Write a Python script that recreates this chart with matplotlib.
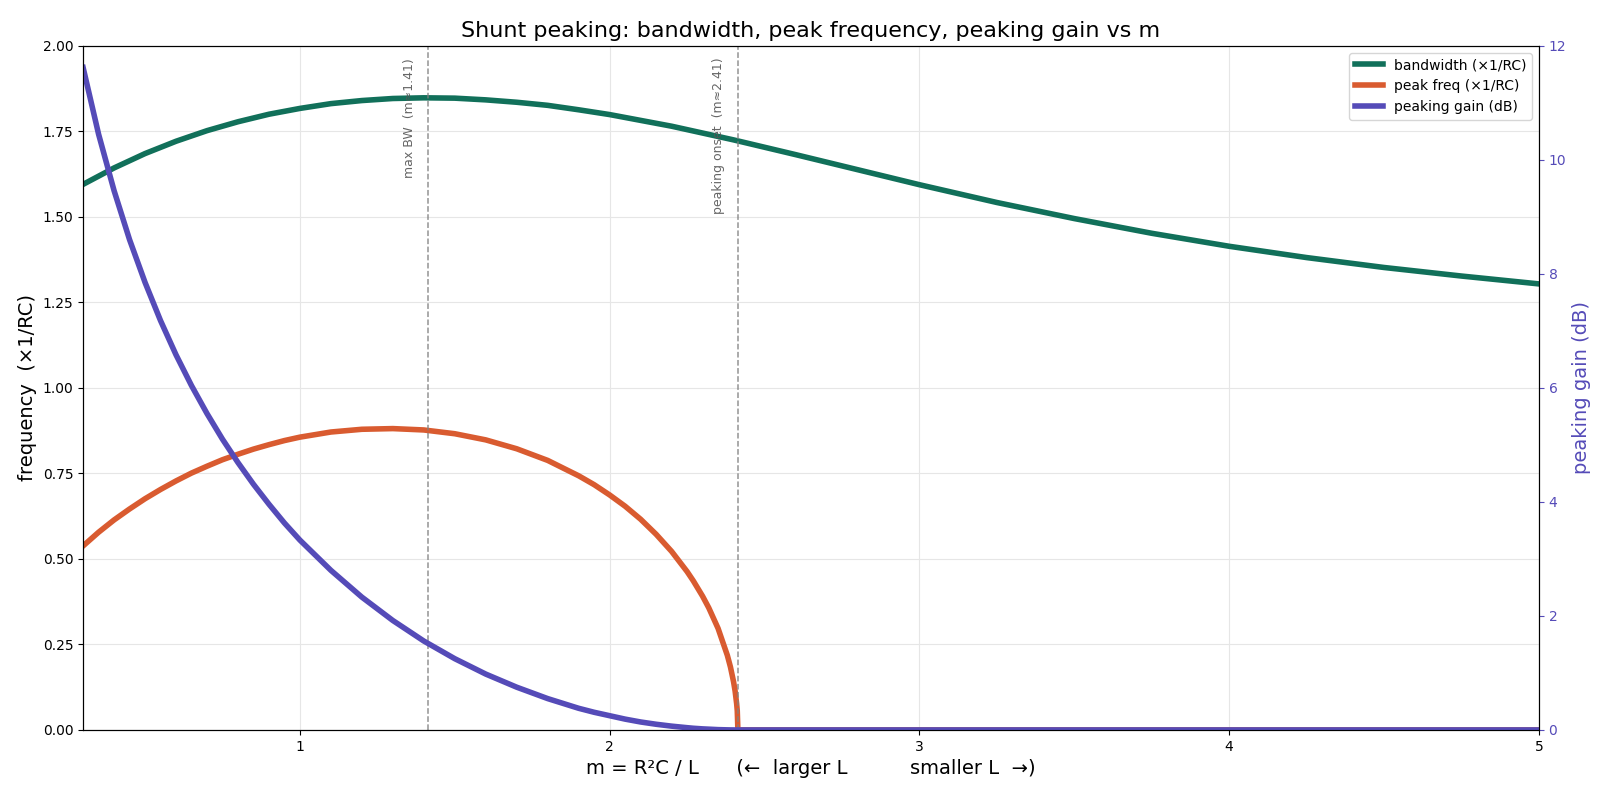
import matplotlib.pyplot as plt

# valores
m_bw = [0.3, 0.4, 0.5, 0.6, 0.7, 0.8, 0.9, 1.0, 1.1, 1.2, 1.3, 1.4, 1.5, 1.6, 1.7, 1.8, 1.9,
        2.0, 2.2, 2.4, 2.6, 2.8, 3.0, 3.25, 3.5, 3.75, 4.0, 4.25, 4.5, 4.75, 5.0]
bandwidth = [1.595, 1.643, 1.685, 1.721, 1.752, 1.778, 1.800, 1.817, 1.831, 1.840, 1.846, 1.848,
             1.847, 1.842, 1.835, 1.826, 1.813, 1.799, 1.765, 1.725, 1.682, 1.638, 1.594, 1.542,
             1.495, 1.452, 1.414, 1.381, 1.352, 1.327, 1.304]

m_pk = [0.3, 0.35, 0.4, 0.45, 0.5, 0.55, 0.6, 0.65, 0.7, 0.75, 0.8, 0.85, 0.9, 0.95, 1.0,
        1.1, 1.2, 1.3, 1.4, 1.5, 1.6, 1.7, 1.8, 1.9, 1.95, 2.0, 2.05, 2.1, 2.15, 2.2, 2.25,
        2.27, 2.3, 2.32, 2.35, 2.38, 2.39, 2.40, 2.405, 2.41, 2.412, 2.414, 5.0]
peak_freq = [0.538, 0.578, 0.614, 0.646, 0.676, 0.703, 0.728, 0.751, 0.771, 0.790, 0.806, 0.821,
             0.834, 0.846, 0.856, 0.871, 0.879, 0.881, 0.877, 0.866, 0.848, 0.822, 0.788, 0.743,
             0.717, 0.687, 0.654, 0.616, 0.572, 0.522, 0.463, 0.436, 0.391, 0.357, 0.297, 0.218,
             0.184, 0.141, 0.114, 0.077, 0.056, 0.0, 0.0]
peak_gain = [11.62, 10.45, 9.46, 8.60, 7.85, 7.18, 6.58, 6.04, 5.55, 5.10, 4.69, 4.31, 3.96,
             3.63, 3.33, 2.80, 2.33, 1.92, 1.56, 1.25, 0.98, 0.75, 0.55, 0.38, 0.31, 0.25, 0.19,
             0.14, 0.10, 0.067, 0.04, 0.03, 0.019, 0.014, 0.006, 0.002, 0.001, 0.0005, 0.0002,
             0.0, 0.0, 0.0, 0.0]

marcas = [1.414, 2.414]
textos_marcas = ["max BW  (m≈1.41)", "peaking onset  (m≈2.41)"]

verde = "#11705a"
naranja = "#d95b30"
violeta = "#554bb8"

fig, ax = plt.subplots(figsize=(15.98, 7.9), dpi=100)
ax2 = ax.twinx()

l1, = ax.plot(m_bw, bandwidth, color=verde, lw=4, solid_joinstyle="round",
              label="bandwidth (×1/RC)")
l2, = ax.plot(m_pk, peak_freq, color=naranja, lw=4, solid_joinstyle="round",
              label="peak freq (×1/RC)")
l3, = ax2.plot(m_pk, peak_gain, color=violeta, lw=4, solid_joinstyle="round",
               label="peaking gain (dB)")

for xm, t in zip(marcas, textos_marcas):
    ax.axvline(xm, color="gray", ls="--", lw=1.1, alpha=0.85)
    ax.text(xm - 0.04, 1.965, t, rotation=90, ha="right", va="top",
            fontsize=9, color="#555555", alpha=0.9)

ax.set_xlim(0.3, 5)
ax.set_ylim(0, 2)
ax2.set_ylim(0, 12)
ax.set_xticks([1, 2, 3, 4, 5])
ax.grid(True, color="#e6e6e6", lw=0.8)

ax.set_xlabel("m = R²C / L      (←  larger L          smaller L  →)", fontsize=14)
ax.set_ylabel("frequency  (×1/RC)", fontsize=14)
ax2.set_ylabel("peaking gain (dB)", fontsize=14, color=violeta)
ax2.tick_params(axis="y", colors=violeta)
ax.set_title("Shunt peaking: bandwidth, peak frequency, peaking gain vs m", fontsize=16)

ax2.legend(handles=[l1, l2, l3], loc="upper right", fontsize=10)

plt.subplots_adjust(left=0.052, right=0.963, top=0.942, bottom=0.076)
plt.savefig("out.png")
